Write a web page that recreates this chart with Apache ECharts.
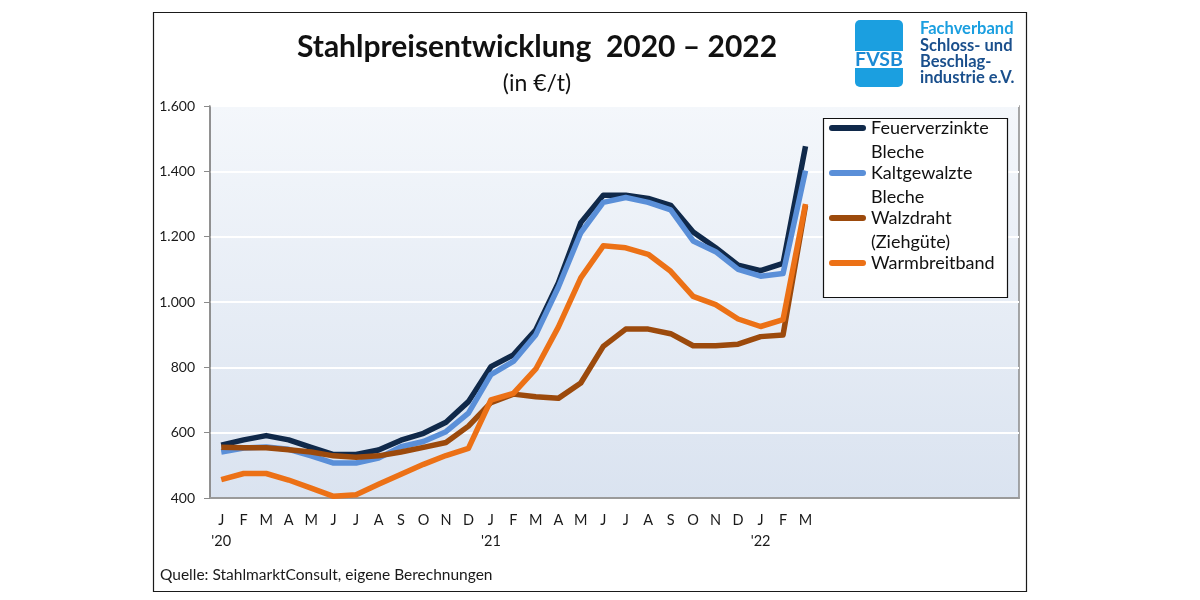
<!DOCTYPE html>
<html>
<head>
    <meta charset="utf-8" />
    <script src="https://cdn.jsdelivr.net/npm/echarts@6/dist/echarts.min.js"></script>
    <title>Stahlpreisentwicklung</title>
    <style>
        body { margin: 0; background: #fff; }
        #main { width: 1200px; height: 600px; }
    </style>
</head>
<body>
    <div id="main"></div>
    <script type="text/javascript">
        // Monate Jan 2020 - Dez 2022 (Daten nur bis Maerz 2022)
        var months = ['J', 'F', 'M', 'A', 'M', 'J', 'J', 'A', 'S', 'O', 'N', 'D'];
        var yearLabels = ["'20", "'21", "'22"];
        var yTicks = [400, 600, 800, 1000, 1200, 1400, 1600];

        var seriesNames = ['Feuerverzinkte Bleche', 'Kaltgewalzte Bleche', 'Walzdraht (Ziehgüte)', 'Warmbreitband'];
        var feuerverzinkt = [562, 578, 591, 578, 555, 533, 533, 547, 577, 598, 632, 695,
            802, 838, 915, 1058, 1243, 1327, 1327, 1317, 1296, 1214, 1166, 1113,
            1096, 1118, 1477];
        var kaltgewalzt = [541, 553, 556, 549, 529, 507, 507, 522, 557, 573, 603, 660,
            778, 818, 900, 1045, 1212, 1305, 1320, 1305, 1282, 1187, 1154, 1100,
            1079, 1087, 1402];
        var walzdraht = [555, 554, 554, 548, 541, 529, 525, 529, 541, 555, 570, 620,
            692, 718, 710, 705, 752, 864, 917, 917, 903, 866, 866, 871,
            894, 899, 1295];
        var warmbreitband = [456, 475, 475, 455, 430, 405, 410, 442, 473, 503, 530, 552,
            700, 720, 795, 923, 1074, 1172, 1166, 1146, 1094, 1017, 992, 948,
            925, 946, 1300];
        var colors = ['#10294a', '#5a8fd8', '#9c4a0c', '#ec7116'];

        var FONT = 'Lato';
        var shown = feuerverzinkt.length;   // Monate mit Beschriftung
        var categories = [];
        for (var y = 0; y < 3; y++) {
            for (var m = 0; m < 12; m++) {
                categories.push(y * 12 + m < shown ? months[m] : '');
            }
        }

        // Legendensymbol: Balken auf Hoehe der ersten Textzeile
        var legendIcon = 'path://M0,0 L0,0 M3,1 L34,1 A3,3 0 0 1 34,7 L3,7 A3,3 0 0 1 3,1 Z M37,32 L37,32';

        var myChart = echarts.init(document.getElementById('main'));

        var option = {
            animation: false,
            textStyle: { fontFamily: FONT },
            grid: {
                left: 210, right: 181, top: 106, bottom: 102,
                show: true,
                borderColor: '#8a8a8a',
                borderWidth: 1.5,
                backgroundColor: {
                    type: 'linear', x: 0, y: 0, x2: 0, y2: 1,
                    colorStops: [
                        { offset: 0, color: '#f4f7fb' },
                        { offset: 1, color: '#dae3f0' }
                    ]
                }
            },
            xAxis: {
                type: 'category',
                data: categories,
                boundaryGap: true,
                axisLine: { lineStyle: { color: '#9a9a9a', width: 2 } },
                axisTick: {
                    inside: true, length: 8,
                    interval: function (idx) { return idx % 12 === 0; },
                    lineStyle: { color: '#8a8a8a' }
                },
                axisLabel: {
                    interval: 0,
                    margin: 12,
                    color: '#1a1a1a',
                    fontFamily: FONT,
                    fontSize: 14.5,
                    lineHeight: 21,
                    formatter: function (val, idx) {
                        if (idx % 12 === 0 && idx < shown) {
                            return val + '\n' + yearLabels[idx / 12];
                        }
                        return val;
                    }
                },
                splitLine: { show: false }
            },
            yAxis: {
                type: 'value',
                min: yTicks[0],
                max: yTicks[yTicks.length - 1],
                interval: 200,
                axisLine: { show: true, lineStyle: { color: '#8a8a8a', width: 1.5 } },
                axisTick: { show: true, length: 6, lineStyle: { color: '#8a8a8a' } },
                axisLabel: {
                    margin: 15,
                    color: '#1a1a1a',
                    fontFamily: FONT,
                    fontSize: 14,
                    formatter: function (v) {
                        return v >= 1000 ? Math.floor(v / 1000) + '.' + String(v % 1000).padStart(3, '0') : String(v);
                    }
                },
                splitLine: { show: true, lineStyle: { color: '#ffffff', width: 2 } }
            },
            legend: {
                orient: 'vertical',
                left: 829,
                top: 116,
                padding: 0,
                itemGap: -3,
                itemWidth: 37,
                itemHeight: 32,
                icon: legendIcon,
                itemStyle: { borderWidth: 0 },
                z: 10,
                textStyle: { fontFamily: FONT, fontSize: 18, color: '#111', lineHeight: 24 },
                formatter: function (name) {
                    return name.indexOf(' ') < 0 ? name + '\n ' : name.replace(' ', '\n');
                },
                data: seriesNames
            },
            graphic: [
                // Rahmen um das ganze Bild
                { type: 'rect', shape: { x: 153.5, y: 12.5, width: 873, height: 579 },
                    style: { fill: 'none', stroke: '#1a1a1a', lineWidth: 1.2 }, z: 1 },
                // Legendenrahmen
                { type: 'rect', shape: { x: 823.5, y: 118.5, width: 184, height: 179 },
                    style: { fill: '#ffffff', stroke: '#111', lineWidth: 1.2 }, z: 5 },
                { type: 'text', x: 537, y: 47,
                    style: { text: 'Stahlpreisentwicklung  2020 – 2022', fontFamily: FONT, fontWeight: 'bold',
                        fontSize: 30, fill: '#111', align: 'center', verticalAlign: 'middle' } },
                { type: 'text', x: 537, y: 84,
                    style: { text: '(in €/t)', fontFamily: FONT, fontSize: 23, fill: '#111',
                        align: 'center', verticalAlign: 'middle' } },
                { type: 'text', x: 160, y: 575,
                    style: { text: 'Quelle: StahlmarktConsult, eigene Berechnungen', fontFamily: FONT,
                        fontSize: 15.5, fill: '#1a1a1a', verticalAlign: 'middle' } },
                // FVSB Logo
                { type: 'rect', shape: { x: 855, y: 20, width: 48, height: 67, r: 5 },
                    style: { fill: '#1b9fe0' } },
                { type: 'rect', shape: { x: 855, y: 51, width: 48, height: 17 },
                    style: { fill: '#ffffff' } },
                { type: 'text', x: 879, y: 60,
                    style: { text: 'FVSB', fontFamily: FONT, fontWeight: 'bold', fontSize: 19.5, fill: '#1a8ad4',
                        align: 'center', verticalAlign: 'middle' } },
                { type: 'text', x: 920, y: 29,
                    style: { text: 'Fachverband', fontFamily: FONT, fontWeight: 'bold', fontSize: 16.5,
                        fill: '#1b9fe0', verticalAlign: 'middle' } },
                { type: 'text', x: 920, y: 46,
                    style: { text: 'Schloss- und', fontFamily: FONT, fontWeight: 'bold', fontSize: 16.5,
                        fill: '#1a4f8c', verticalAlign: 'middle' } },
                { type: 'text', x: 920, y: 62,
                    style: { text: 'Beschlag-', fontFamily: FONT, fontWeight: 'bold', fontSize: 16.5,
                        fill: '#1a4f8c', verticalAlign: 'middle' } },
                { type: 'text', x: 920, y: 78,
                    style: { text: 'industrie e.V.', fontFamily: FONT, fontWeight: 'bold', fontSize: 16.5,
                        fill: '#1a4f8c', verticalAlign: 'middle' } }
            ],
            series: [
                { name: seriesNames[0], data: feuerverzinkt },
                { name: seriesNames[1], data: kaltgewalzt },
                { name: seriesNames[2], data: walzdraht },
                { name: seriesNames[3], data: warmbreitband }
            ].map(function (s, i) {
                return {
                    name: s.name,
                    type: 'line',
                    data: s.data,
                    symbol: 'none',
                    lineStyle: { color: colors[i], width: 5.5, join: 'round' },
                    itemStyle: { color: colors[i] }
                };
            })
        };

        myChart.setOption(option);
    </script>
</body>
</html>
